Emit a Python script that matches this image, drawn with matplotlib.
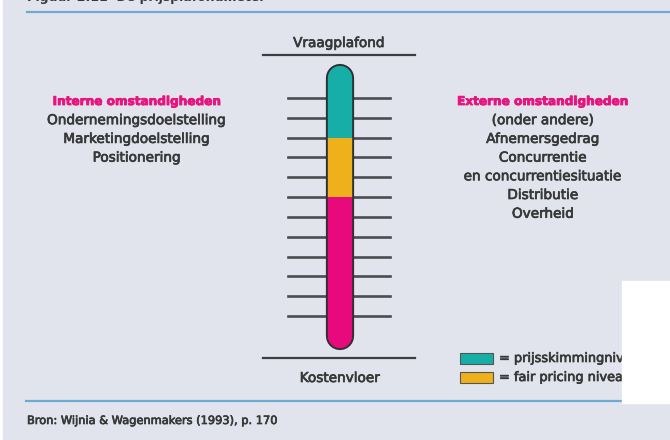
import matplotlib.pyplot as plt
import matplotlib.patheffects as pe
from matplotlib.patches import Rectangle

# thermometer scale: ticks 1..12, tube runs from level 0 to 13
tick_levels = list(range(1, 13))
tube_bottom, tube_top = 0, 13
segment_names = ['kostprijs', 'fair pricing', 'prijsskimming']
segment_lo = [0, 7, 10]
segment_hi = [7, 10, 13]
segment_colors = ['#e8097c', '#eeb11c', '#16aea6']

left_head = 'Interne omstandigheden'
left_lines = ['Ondernemingsdoelstelling', 'Marketingdoelstelling', 'Positionering']
right_head = 'Externe omstandigheden'
right_lines = ['(onder andere)', 'Afnemersgedrag', 'Concurrentie',
               'en concurrentiesituatie', 'Distributie', 'Overheid']
legend_labels = ['= prijsskimmingniveau', '= fair pricing niveau']
legend_colors = ['#16aea6', '#eeb11c']

bg = '#e1e4ed'
ink = '#383838'
pink = '#e6157d'
blue = '#6eaad3'

plt.rcParams['font.family'] = ['DejaVu Sans']
thick = [pe.withStroke(linewidth=0.5, foreground=ink)]
thick_pink = [pe.withStroke(linewidth=0.6, foreground=pink)]

fig = plt.figure(figsize=(6.7, 4.4), dpi=100)
fig.patch.set_facecolor('white')

# main canvas in pixel units
ax = fig.add_axes([0, 0, 1, 1])
ax.set_xlim(0, 670)
ax.set_ylim(440, 0)
ax.axis('off')
ax.add_patch(Rectangle((3, 0), 667, 440, color=bg, zorder=0))

# cut-off heading and frame lines
ax.text(27, 1, 'Figuur 2.11  De prijsplafondmeter', fontsize=9, fontweight='bold',
        color=ink, va='baseline', ha='left')
ax.plot([27, 670], [12, 12], color=blue, lw=1.6)
ax.plot([26, 622], [401, 401], color=blue, lw=1.6)
ax.text(27, 421, 'Bron: Wijnia & Wagenmakers (1993), p. 170', fontsize=8.2,
        color=ink, va='center', ha='left', path_effects=thick)

# ceiling / floor
ax.text(339, 43, 'Vraagplafond', fontsize=9.8, color=ink, ha='center', va='center',
        path_effects=thick)
ax.plot([263, 415], [55, 55], color='#3d3f44', lw=1.6)
ax.plot([263, 415], [358, 358], color='#3d3f44', lw=1.6)
ax.text(340, 378, 'Kostenvloer', fontsize=9.8, color=ink, ha='center', va='center',
        path_effects=thick)

# side texts
step = 18.7
for cx, head, lines in [(137, left_head, left_lines), (543, right_head, right_lines)]:
    ax.text(cx, 101.5, head, fontsize=8.7, fontweight='bold', color=pink,
            ha='center', va='center', path_effects=thick_pink)
    for i, s in enumerate(lines):
        ax.text(cx, 101.5 + step * (i + 1), s, fontsize=9.8, color=ink,
                ha='center', va='center', path_effects=thick)

# legend
for i, (lab, col) in enumerate(zip(legend_labels, legend_colors)):
    y = 358.5 + 19 * i
    ax.add_patch(Rectangle((460, y - 5.5), 33, 11, facecolor=col,
                           edgecolor='#555555', lw=0.8, zorder=3))
    ax.text(499, y, lab, fontsize=9.3, color=ink, ha='left', va='center', zorder=3,
            path_effects=thick)

# white patch covering the legend's right side
ax.add_patch(Rectangle((622, 281), 48, 122, color='white', zorder=10))

# thermometer axes: x in pixels, y in tick levels
px_per_level = (316 - 98) / 11
ylo = 1 - (348 - 316) / px_per_level
yhi = 12 + (98 - 66) / px_per_level
tax = fig.add_axes([263 / 670, 1 - 348 / 440, (415 - 263) / 670, (348 - 66) / 440])
tax.set_xlim(263, 415)
tax.set_ylim(ylo, yhi)
tax.axis('off')
tax.patch.set_alpha(0)

for lv in tick_levels:
    tax.plot([288, 390], [lv, lv], color='#4a4c52', lw=1.9, zorder=1)

cx = 340
tube_w = 26 * 72 / 100
tax.plot([cx, cx], [tube_bottom, tube_top], color='#2e3033', lw=tube_w + 1.6,
         solid_capstyle='round', zorder=2, clip_on=False)
# end segments with round caps first, middle one butt on top
order = [2, 0, 1]
for k in order:
    cap = 'butt' if k == 1 else 'round'
    tax.plot([cx, cx], [segment_lo[k], segment_hi[k]], color=segment_colors[k],
             lw=tube_w - 1.2, solid_capstyle=cap, zorder=3 + (k == 1), clip_on=False)

fig.savefig('out.png', dpi=100, facecolor=fig.get_facecolor())
